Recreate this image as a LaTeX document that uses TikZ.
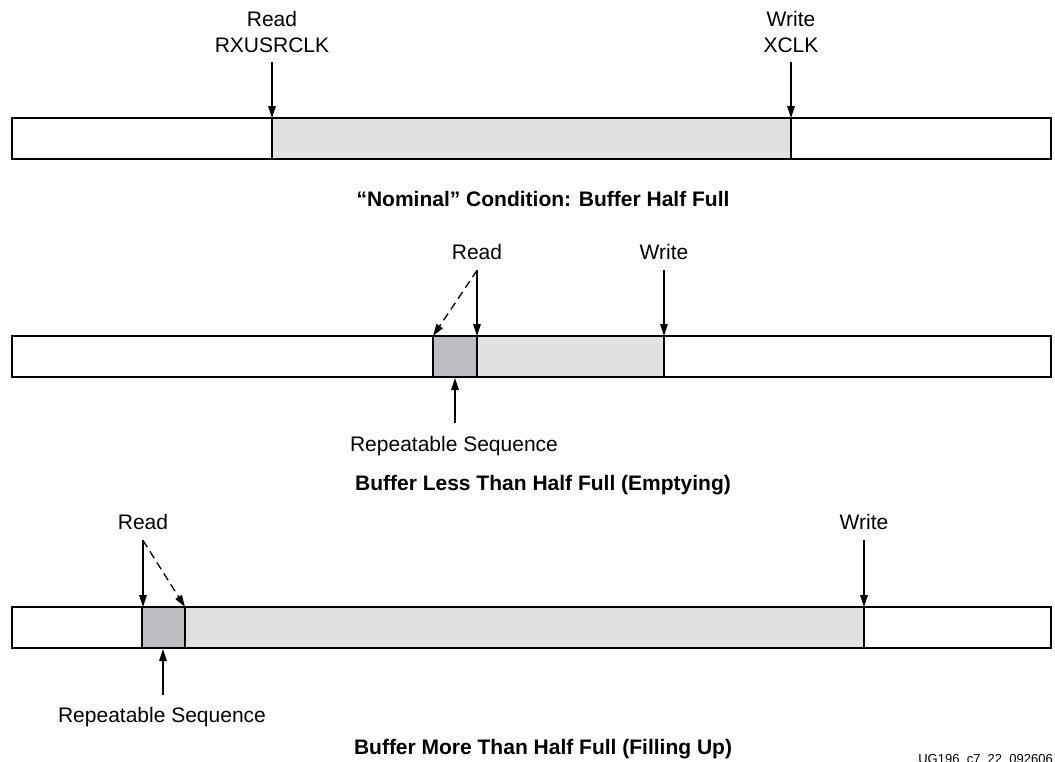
\documentclass[tikz,border=0pt]{standalone}
\usepackage{fontspec}
\setmainfont{Liberation Sans}
\usetikzlibrary{arrows.meta}

\definecolor{usedgray}{HTML}{E1E2E4}
\definecolor{repgray}{HTML}{BDBEC1}

\tikzset{
  lbl/.style={font=\fontsize{21}{25}\selectfont, inner sep=0pt, anchor=base},
  captext/.style={font=\fontsize{21}{25}\selectfont\bfseries, inner sep=0pt, anchor=base},
  ptr/.style={-{Triangle[length=12pt,width=7.5pt]}, line width=1.3pt},
  dptr/.style={ptr, dash pattern=on 8pt off 5pt},
  buf/.style={line width=2.6pt},
  divline/.style={line width=1.4pt}
}

\begin{document}
\begin{tikzpicture}[x=1pt,y=-1pt]
  \useasboundingbox (0,0) rectangle (1055,761);

  % nominal: half full
  \fill [usedgray] (272,118) rectangle (791,159);
  \draw [divline] (272,118) -- (272,159) (791,118) -- (791,159);
  \draw [buf] (12,118) rectangle (1051,159);
  \coordinate (rtip1) at (272,118);
  \coordinate (wtip1) at (791,118);

  \node [lbl] (read1) at (272,26) {Read};
  \node [lbl] (rxclk) at (272,52) {RXUSRCLK};
  \node [lbl] (write1) at (791,26) {Write};
  \node [lbl] (xclk) at (791,52) {XCLK};
  \draw [ptr] ([yshift=-10pt]rxclk.south) -- (rtip1);
  \draw [ptr] ([yshift=-10pt]xclk.south) -- (wtip1);

  \node [captext] (cap1) at (543,206) {``Nominal'' Condition: Buffer Half Full};

  % emptying
  \fill [repgray] (433,336) rectangle (477,377);
  \fill [usedgray] (477,336) rectangle (664,377);
  \draw [divline] (433,336) -- (433,377) (477,336) -- (477,377) (664,336) -- (664,377);
  \draw [buf] (12,336) rectangle (1051,377);
  \coordinate (rtip2) at (477,336);
  \coordinate (rold2) at (433,336);
  \coordinate (wtip2) at (664,336);
  \coordinate (seq2) at (455,378);

  \node [lbl] (read2) at (477,259) {Read};
  \node [lbl] (write2) at (664,259) {Write};
  \draw [ptr] ([yshift=-11pt]read2.south) -- (rtip2);
  \draw [dptr] ([yshift=-11pt]read2.south) -- (rold2);
  \draw [ptr] ([yshift=-11pt]write2.south) -- (wtip2);

  \node [lbl] (rep2) at (454,451) {Repeatable Sequence};
  \draw [ptr] ([yshift=13pt]rep2.north -| seq2) -- (seq2);

  \node [captext] (cap2) at (543,490) {Buffer Less Than Half Full (Emptying)};

  % filling up
  \fill [repgray] (142,607) rectangle (185,648);
  \fill [usedgray] (185,607) rectangle (864,648);
  \draw [divline] (142,607) -- (142,648) (185,607) -- (185,648) (864,607) -- (864,648);
  \draw [buf] (12,607) rectangle (1051,648);
  \coordinate (rtip3) at (143,607);
  \coordinate (rnew3) at (185,607);
  \coordinate (wtip3) at (864,607);
  \coordinate (seq3) at (163,649);

  \node [lbl] (read3) at (143,529) {Read};
  \node [lbl] (write3) at (864,529) {Write};
  \draw [ptr] ([yshift=-11pt]read3.south) -- (rtip3);
  \draw [dptr] ([yshift=-11pt]read3.south) -- (rnew3);
  \draw [ptr] ([yshift=-11pt]write3.south) -- (wtip3);

  \node [lbl] (rep3) at (162,722) {Repeatable Sequence};
  \draw [ptr] ([yshift=12pt]rep3.north -| seq3) -- (seq3);

  \node [captext] (cap3) at (543,754) {Buffer More Than Half Full (Filling Up)};

  \node [font=\fontsize{13}{15}\selectfont, inner sep=0pt, anchor=base east] (fig) at (1053,763) {UG196\_c7\_22\_092606};
\end{tikzpicture}
\end{document}
